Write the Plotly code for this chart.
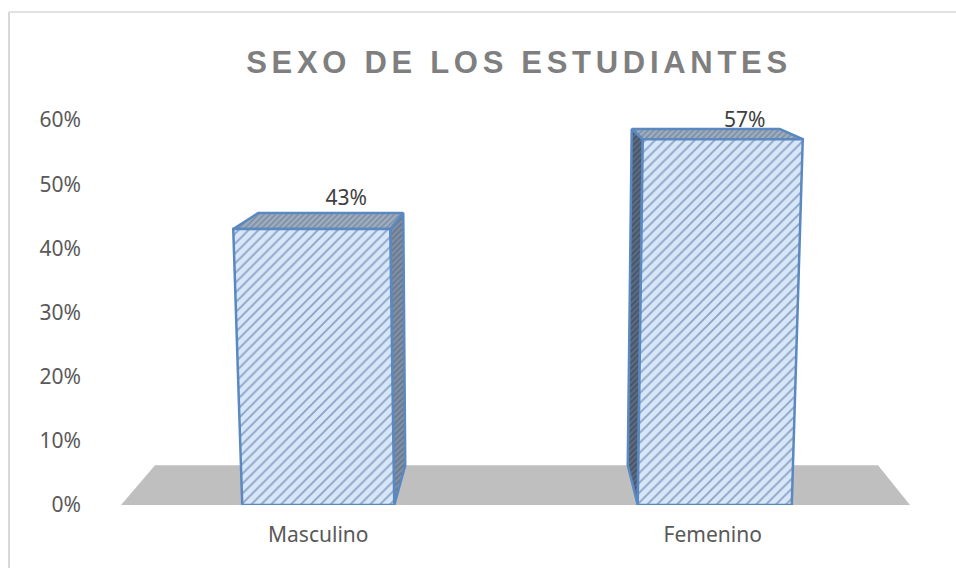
import plotly.graph_objects as go

# Data
categories = ["Masculino", "Femenino"]
values = [43, 57]
value_labels = ["43%", "57%"]
tick_values = [0, 10, 20, 30, 40, 50, 60]
tick_labels = ["0%", "10%", "20%", "30%", "40%", "50%", "60%"]
title = "SEXO DE LOS ESTUDIANTES"

# Geometry of the perspective drawing (pixels relative to category centre)
W, H = 956, 568
L, R, T, B = 121, 46, 120, 63
PX = (W - L - R) / 2.0  # px per category
front_bottom = [(-76, 76), (-75, 79)]
front_top = [(-85, 72), (-70, 90)]
back_top = [(-60, 85), (-81, 67)]
back_rise = [2.5, 1.6]
side_bottom = [(87, 6.2), (-85, 6.2)]
label_rise = [4.5, 2.7]
label_shift = [28, 32]
floor_inset = (34, 32)
floor_depth = 6.2

STRIPE = "#3f6096"
FRONT_BG = "#d8e7f8"
EDGE = "#5a88c0"
TOP_BG = "#a3adb8"
TOP_FG = "#4f6f9f"
SIDE_BG = ["#8290a2", "#5c6b80"]
SIDE_FG = ["#4a5f80", "#2f3b50"]
FLOOR = "#bfbfbf"
TEXT = "#595959"
FONT = "Noto Sans, Open Sans, sans-serif"

fig = go.Figure()

# Floor
fig.add_trace(go.Scatter(
    x=[-0.5, -0.5 + floor_inset[0] / PX, 1.5 - floor_inset[1] / PX, 1.5, -0.5],
    y=[0, floor_depth, floor_depth, 0, 0],
    mode="lines", fill="toself", fillcolor=FLOOR,
    line=dict(width=0, color=FLOOR), hoverinfo="skip", showlegend=False, cliponaxis=False))


def poly(xs, ys, bg, fg, size, solidity):
    fig.add_trace(go.Scatter(
        x=xs + xs[:1], y=ys + ys[:1], mode="lines", fill="toself",
        fillcolor=bg,
        fillpattern=dict(shape="/", bgcolor=bg, fgcolor=fg, size=size, solidity=solidity),
        line=dict(color=EDGE, width=2.5), hoverinfo="skip", showlegend=False, cliponaxis=False))


for i, (cat, v) in enumerate(zip(categories, values)):
    fb, ft, bt, sb = front_bottom[i], front_top[i], back_top[i], side_bottom[i]
    rise = back_rise[i]
    side_edge = ft[1] if i == 0 else ft[0]
    side_back = bt[1] if i == 0 else bt[0]
    side_base = fb[1] if i == 0 else fb[0]
    # side face
    poly([i + side_edge / PX, i + side_back / PX, i + sb[0] / PX, i + side_base / PX],
         [v, v + rise, sb[1], 0], SIDE_BG[i], SIDE_FG[i], 4, 0.45)
    # top face
    poly([i + ft[0] / PX, i + bt[0] / PX, i + bt[1] / PX, i + ft[1] / PX],
         [v, v + rise, v + rise, v], TOP_BG, TOP_FG, 4, 0.4)
    # front face
    poly([i + fb[0] / PX, i + ft[0] / PX, i + ft[1] / PX, i + fb[1] / PX],
         [0, v, v, 0], FRONT_BG, STRIPE, 7, 0.27)

# Data labels
fig.add_trace(go.Scatter(
    x=[i + s / PX for i, s in enumerate(label_shift)],
    y=[v + r for v, r in zip(values, label_rise)],
    mode="text", text=value_labels, textposition="middle center",
    textfont=dict(family=FONT, size=21, color="#404040"),
    hoverinfo="skip", showlegend=False, cliponaxis=False))

# Chart frame: only the top and left edges show in the picture
frame_left = (9 - L) / (W - L - R)
frame_right = (W - L) / (W - L - R)
frame_top = (H - B - 12) / (H - T - B)
frame_bottom = (H - B - H) / (H - T - B)
fig.add_shape(type="line", xref="paper", yref="paper", x0=frame_left, x1=frame_right,
              y0=frame_top, y1=frame_top, line=dict(color="#d9d9d9", width=1.5))
fig.add_shape(type="line", xref="paper", yref="paper", x0=frame_left, x1=frame_left,
              y0=frame_bottom, y1=frame_top, line=dict(color="#d9d9d9", width=2))

fig.update_layout(
    width=W, height=H, autosize=False,
    margin=dict(l=L, r=R, t=T, b=B),
    paper_bgcolor="white", plot_bgcolor="white",
    showlegend=False,
    font=dict(family=FONT, size=21, color=TEXT),
    title=dict(text=title, x=519 / W, xanchor="center", y=1 - 62 / H, yanchor="middle",
               font=dict(family="Liberation Sans, Arial, sans-serif", size=31, color="#7f7f7f", weight="bold")),
    xaxis=dict(range=[-0.5, 1.5], tickmode="array", tickvals=[0, 1], ticktext=categories,
               showgrid=False, zeroline=False, showline=False, ticks="", ticklabelstandoff=15),
    yaxis=dict(range=[0, 60], tickmode="array", tickvals=tick_values, ticktext=tick_labels,
               showgrid=False, zeroline=False, showline=False, ticks="", ticklabelstandoff=39),
)

fig.write_html("out.html", config=dict(displayModeBar=False), post_script=(
    "document.body.style.margin='0';"
    "var s=document.createElement('style');"
    "s.textContent='.gtitle{letter-spacing:4.7px}';document.head.appendChild(s);"))
